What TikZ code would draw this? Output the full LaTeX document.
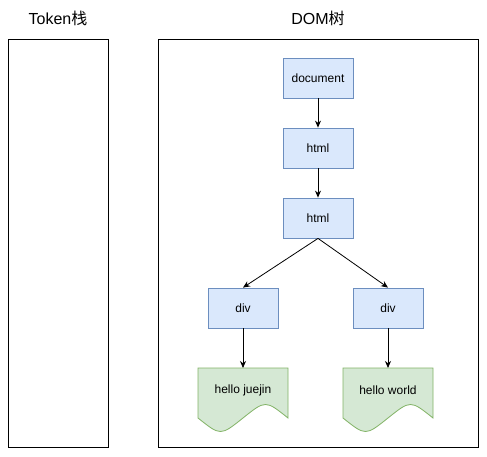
\documentclass[tikz,border=0pt]{standalone}
\usepackage{fontspec}
\setmainfont{Liberation Sans}
\newfontfamily\cjk{Noto Sans CJK SC}
\usetikzlibrary{arrows.meta}
\definecolor{bfill}{HTML}{DAE8FC}
\definecolor{bdraw}{HTML}{6C8EBF}
\definecolor{gfill}{HTML}{D5E8D4}
\definecolor{gdraw}{HTML}{82B366}
\tikzset{
  box/.style={draw=bdraw, fill=bfill, line width=0.8pt, minimum width=70pt, minimum height=40pt, inner sep=0pt, font=\fontsize{12}{14}\selectfont},
  frame/.style={draw=black, line width=0.8pt},
  title/.style={font=\fontsize{16}{18}\selectfont},
  conn/.style={draw=black, line width=0.8pt, -{Stealth[length=7pt,width=6pt]}},
  docshape/.style={draw=gdraw, fill=gfill, line width=0.8pt},
  doclabel/.style={font=\fontsize{12}{14}\selectfont}
}
\begin{document}
\begin{tikzpicture}[x=1pt,y=-1pt]
\useasboundingbox (0,0) rectangle (487,457);
% titles
\node[title] (t1) at (58,18) {Token{\cjk 栈}};
\node[title] (t2) at (318,18) {DOM{\cjk 树}};
% frames
\draw[frame] (8,39) rectangle (108,447);
\draw[frame] (158,39) rectangle (478,447);
% nodes
\node[box] (doc) at (318,78) {document};
\node[box] (h1) at (318,148) {html};
\node[box] (h2) at (318,218) {html};
\node[box] (d1) at (243,308) {div};
\node[box] (d2) at (388,308) {div};
% document shapes
\draw[docshape] (198,368) -- (288,368) -- (288,418) .. controls (265.5,400) .. (243,418) .. controls (220.5,436) .. (198,418) -- cycle;
\draw[docshape] (343,368) -- (433,368) -- (433,418) .. controls (410.5,400) .. (388,418) .. controls (365.5,436) .. (343,418) -- cycle;
\coordinate (g1top) at (243,368);
\coordinate (g2top) at (388,368);
\node[doclabel] (g1) at (243,390) {hello juejin};
\node[doclabel] (g2) at (388,390) {hello world};
% connectors
\draw[conn] (doc) -- (h1);
\draw[conn] (h1) -- (h2);
\draw[conn] (h2.south) -- (d1.north);
\draw[conn] (h2.south) -- (d2.north);
\draw[conn] (d1) -- (g1top);
\draw[conn] (d2) -- (g2top);
\end{tikzpicture}
\end{document}
